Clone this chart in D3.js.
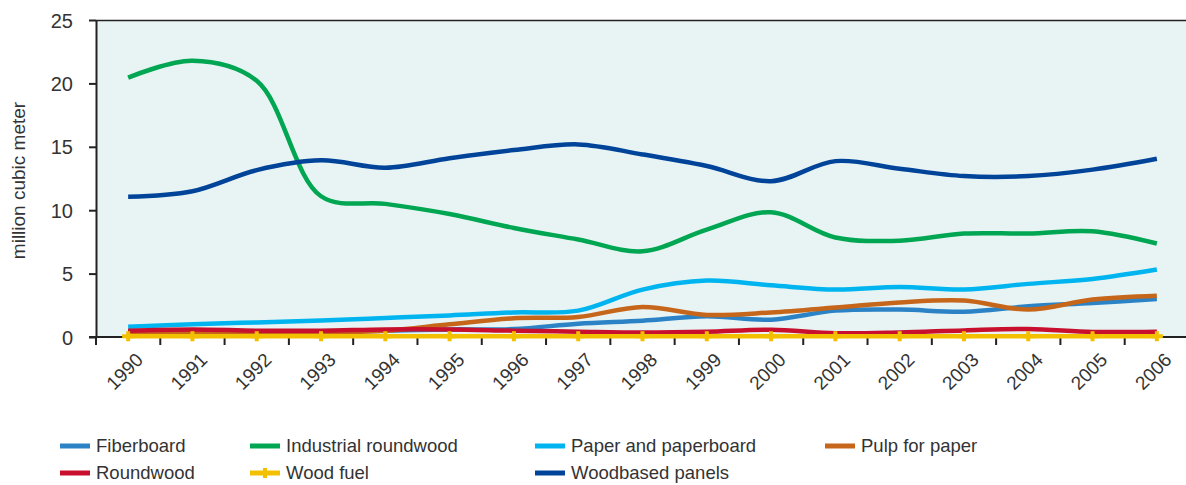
<!DOCTYPE html>
<html>
<head>
<meta charset="utf-8">
<script src="https://cdn.jsdelivr.net/npm/d3@7"></script>
<style>
  html, body { margin: 0; padding: 0; background: #fff; }
  svg { display: block; }
  text { font-family: "Liberation Sans", Arial, sans-serif; fill: #333; }
</style>
</head>
<body>
<svg id="chart" width="1186" height="485"></svg>
<script>
const years = ["1990","1991","1992","1993","1994","1995","1996","1997","1998","1999","2000","2001","2002","2003","2004","2005","2006"];
const yTicks = [0, 5, 10, 15, 20, 25];

const fiberboard = [0.45,0.45,0.45,0.45,0.5,0.6,0.63,1.05,1.29,1.63,1.37,2.08,2.16,2.0,2.42,2.68,3.0];
const industrialRoundwood = [20.46,21.78,20.2,11.1,10.5,9.7,8.6,7.69,6.76,8.47,9.84,7.85,7.6,8.16,8.16,8.34,7.37];
const paperAndPaperboard = [0.8,1.0,1.15,1.3,1.5,1.7,1.94,2.08,3.74,4.45,4.08,3.74,3.95,3.74,4.19,4.58,5.32];
const pulpForPaper = [0.35,0.35,0.35,0.35,0.5,1.0,1.48,1.58,2.37,1.74,1.94,2.32,2.73,2.87,2.16,2.95,3.26];
const roundwood = [0.5,0.6,0.5,0.5,0.6,0.6,0.5,0.42,0.36,0.42,0.58,0.3,0.36,0.52,0.63,0.4,0.42];
const woodFuel = [0.05,0.05,0.05,0.05,0.05,0.05,0.05,0.05,0.05,0.05,0.05,0.05,0.05,0.05,0.05,0.05,0.05];
const woodbasedPanels = [11.06,11.5,13.16,13.93,13.35,14.1,14.74,15.19,14.4,13.48,12.29,13.87,13.27,12.69,12.69,13.2,14.06];

const seriesNames = ["Fiberboard","Industrial roundwood","Paper and paperboard","Pulp for paper","Roundwood","Wood fuel","Woodbased panels"];
const seriesColors = ["#2b83c6","#00a651","#00b5ef","#c5661b","#c8102e","#f3c000","#00449a"];
const seriesValues = [fiberboard, industrialRoundwood, paperAndPaperboard, pulpForPaper, roundwood, woodFuel, woodbasedPanels];

const svg = d3.select("#chart");
const mLeft = 96, mRight = 1189, mTop = 20, mBottom = 337;

const x = d3.scaleBand().domain(years).range([mLeft, mRight]).padding(0);
const y = d3.scaleLinear().domain([0, 25]).range([mBottom, mTop]);
const cx = d => x(d) + x.bandwidth() / 2;

// plot background
svg.append("rect")
  .attr("x", mLeft).attr("y", mTop)
  .attr("width", 1186 - mLeft).attr("height", mBottom - mTop)
  .attr("fill", "#e8f4f4");

// top border
svg.append("line")
  .attr("x1", mLeft).attr("x2", 1186).attr("y1", mTop + 0.5).attr("y2", mTop + 0.5)
  .attr("stroke", "#222").attr("stroke-width", 1.5);

// Y axis
const yAxis = svg.append("g")
  .attr("transform", `translate(${mLeft},0)`)
  .call(d3.axisLeft(y).tickValues(yTicks).tickSize(7).tickPadding(16).tickSizeOuter(0));
yAxis.select(".domain").attr("stroke", "#222").attr("stroke-width", 2);
yAxis.selectAll(".tick line").attr("stroke", "#222").attr("stroke-width", 2);
yAxis.selectAll(".tick text")
  .style("font-size", "20px").attr("fill", "#333").attr("dy", "0.35em");

// X axis (ticks at band boundaries)
const xg = svg.append("g");
xg.append("line")
  .attr("x1", mLeft - 7).attr("x2", 1186)
  .attr("y1", mBottom).attr("y2", mBottom)
  .attr("stroke", "#222").attr("stroke-width", 2);
xg.selectAll("line.tk").data(years)
  .enter().append("line").attr("class", "tk")
  .attr("x1", d => x(d)).attr("x2", d => x(d))
  .attr("y1", mBottom).attr("y2", mBottom + 8)
  .attr("stroke", "#222").attr("stroke-width", 2);
xg.selectAll("text").data(years)
  .enter().append("text")
  .attr("transform", d => `translate(${cx(d) + 16},${mBottom + 24}) rotate(-45)`)
  .attr("text-anchor", "end")
  .style("font-size", "19px")
  .text(d => d);

// Y title
svg.append("text")
  .attr("transform", `translate(18,${(mTop + mBottom) / 2 + 2}) rotate(-90)`)
  .attr("text-anchor", "middle")
  .attr("dy", "0.35em")
  .style("font-size", "19px")
  .text("million cubic meter");

// lines
const line = d3.line()
  .x((d, i) => cx(years[i]))
  .y(d => y(d))
  .curve(d3.curveCatmullRom.alpha(0.5));

seriesValues.forEach((vals, si) => {
  svg.append("path")
    .datum(vals)
    .attr("fill", "none")
    .attr("stroke", seriesColors[si])
    .attr("stroke-width", 4.5)
    .attr("stroke-linejoin", "round")
    .attr("d", line);
});

// wood fuel markers
const wfIdx = seriesNames.indexOf("Wood fuel");
svg.append("g").selectAll("path")
  .data(woodFuel)
  .enter().append("path")
  .attr("d", (d, i) => {
    const px = cx(years[i]), py = y(d);
    return `M${px - 6},${py}H${px + 6}M${px},${py - 5}V${py + 5}`;
  })
  .attr("stroke", seriesColors[wfIdx])
  .attr("stroke-width", 4)
  .attr("fill", "none");

// legend
const legendX = [60, 250, 535, 825];
const legendY = [446, 473];
const leg = svg.append("g");
seriesNames.forEach((name, i) => {
  const col = i % 4, row = Math.floor(i / 4);
  const lx = legendX[col], ly = legendY[row];
  const g = leg.append("g");
  g.append("line")
    .attr("x1", lx).attr("x2", lx + 30)
    .attr("y1", ly).attr("y2", ly)
    .attr("stroke", seriesColors[i]).attr("stroke-width", 5);
  if (name === "Wood fuel") {
    g.append("path")
      .attr("d", `M${lx + 15},${ly - 5}V${ly + 5}`)
      .attr("stroke", seriesColors[i]).attr("stroke-width", 4);
  }
  g.append("text")
    .attr("x", lx + 36).attr("y", ly)
    .attr("dy", "0.35em")
    .style("font-size", "18.5px")
    .text(name);
});
</script>
</body>
</html>
